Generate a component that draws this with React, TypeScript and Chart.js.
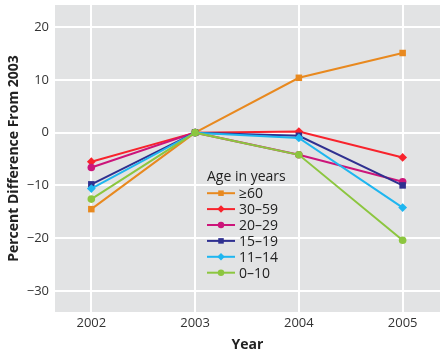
import React, { useEffect, useRef } from "react";
import { Chart, registerables } from "chart.js";
Chart.register(...registerables);

const years = [2002, 2003, 2004, 2005];
const seriesLabels = ["≥60", "30–59", "20–29", "15–19", "11–14", "0–10"];
const s60 = [-14.5, 0, 10.4, 15.1];
const s30 = [-5.5, 0, 0.2, -4.7];
const s20 = [-6.6, 0, -4.2, -9.3];
const s15 = [-9.8, 0, -0.6, -10.0];
const s11 = [-10.6, 0, -1.0, -14.2];
const s0 = [-12.6, 0, -4.2, -20.4];
const yTicks = [-30, -20, -10, 0, 10, 20];
const legendTitle = "Age in years";
const yTitle = "Percent Difference From 2003";
const xTitle = "Year";

const colors = ["#e8891f", "#f8232c", "#cc157a", "#2f3090", "#1eb6f0", "#8cc63f"];
const pointStyles = ["rect", "rectRot", "circle", "rect", "rectRot", "circle"];
const allSeries = [s60, s30, s20, s15, s11, s0];

const FONT = "'Open Sans', 'DejaVu Sans', sans-serif";

function radiusFor(style: string) {
  if (style === "circle") return 3.8;
  if (style === "rectRot") return 4.4;
  return 4.6;
}

function drawMarker(ctx: CanvasRenderingContext2D, style: string, x: number, y: number, r: number) {
  ctx.beginPath();
  if (style === "circle") {
    ctx.arc(x, y, r, 0, Math.PI * 2);
  } else if (style === "rect") {
    const s = r * Math.SQRT1_2;
    ctx.rect(x - s, y - s, s * 2, s * 2);
  } else {
    ctx.moveTo(x, y - r);
    ctx.lineTo(x + r, y);
    ctx.lineTo(x, y + r);
    ctx.lineTo(x - r, y);
    ctx.closePath();
  }
  ctx.fill();
}

const bgPlugin = {
  id: "bgPlugin",
  beforeDraw(chart: any) {
    const { ctx, chartArea } = chart;
    ctx.save();
    ctx.fillStyle = "#e2e3e4";
    ctx.fillRect(chartArea.left, chartArea.top, chartArea.right - chartArea.left, chartArea.bottom - chartArea.top);
    ctx.restore();
  },
};

const legendPlugin = {
  id: "customLegend",
  afterDraw(chart: any) {
    const { ctx, chartArea } = chart;
    const x0 = chartArea.left + 152;
    const y0 = chartArea.top + 172;
    ctx.save();
    ctx.fillStyle = "#222";
    ctx.font = `14px ${FONT}`;
    ctx.textBaseline = "middle";
    ctx.textAlign = "left";
    ctx.fillText(legendTitle, x0, y0);
    seriesLabels.forEach((label, i) => {
      const y = y0 + 16.2 + i * 15.9;
      ctx.strokeStyle = colors[i];
      ctx.fillStyle = colors[i];
      ctx.lineWidth = 2;
      ctx.beginPath();
      ctx.moveTo(x0, y);
      ctx.lineTo(x0 + 28, y);
      ctx.stroke();
      drawMarker(ctx, pointStyles[i], x0 + 14, y, radiusFor(pointStyles[i]) * 0.85);
      ctx.fillStyle = "#222";
      ctx.fillText(label, x0 + 32, y + 1);
    });
    ctx.restore();
  },
};

export default function App() {
  const ref = useRef<HTMLCanvasElement | null>(null);
  useEffect(() => {
    document.body.style.margin = "0";
    const canvas = ref.current!;
    const datasets = allSeries.map((s, i) => ({
      label: seriesLabels[i],
      data: s.map((v, j) => ({ x: years[j], y: v })),
      borderColor: colors[i],
      backgroundColor: colors[i],
      borderWidth: 2,
      pointStyle: pointStyles[i],
      pointRadius: radiusFor(pointStyles[i]),
      pointBorderWidth: 0,
      tension: 0,
    }));
    const chart = new Chart(canvas, {
      type: "line",
      data: { datasets: datasets.slice().reverse() as any },
      options: {
        animation: false,
        responsive: false,
        maintainAspectRatio: false,
        layout: { autoPadding: false, padding: { top: 5, right: 0, left: 0, bottom: 0 } },
        plugins: { legend: { display: false }, tooltip: { enabled: false } },
        scales: {
          x: {
            type: "linear",
            min: 2001.65,
            max: 2005.36,
            afterBuildTicks: (scale: any) => {
              scale.ticks = years.map((v) => ({ value: v }));
            },
            afterFit: (scale: any) => {
              scale.height = 41;
              scale.paddingLeft = 0;
              scale.paddingRight = 0;
            },
            ticks: {
              font: { family: FONT, size: 13 },
              color: "#333",
              padding: 3,
              callback: (v: any) => String(v),
            },
            grid: { color: "#ffffff", lineWidth: 2, drawTicks: false },
            border: { display: false },
            title: {
              display: true,
              text: xTitle,
              font: { family: FONT, size: 14, weight: "bold" },
              color: "#222",
              padding: { top: 1, bottom: 0 },
            },
          },
          y: {
            type: "linear",
            min: -34,
            max: 24.2,
            afterBuildTicks: (scale: any) => {
              scale.ticks = yTicks.map((v) => ({ value: v }));
            },
            afterFit: (scale: any) => {
              scale.width = 55;
              scale.paddingTop = 0;
              scale.paddingBottom = 0;
            },
            ticks: {
              font: { family: FONT, size: 13 },
              color: "#333",
              padding: 6,
              callback: (v: any) => String(v).replace("-", "−"),
            },
            grid: { color: "#ffffff", lineWidth: 2, drawTicks: false },
            border: { display: false },
            title: {
              display: true,
              text: yTitle,
              font: { family: FONT, size: 14, weight: "bold" },
              color: "#222",
              padding: { top: 6, bottom: 0 },
            },
          },
        },
      },
      plugins: [bgPlugin, legendPlugin],
    });
    return () => chart.destroy();
  }, []);
  return (
    <div style={{ width: 440, height: 353 }}>
      <canvas ref={ref} width={440} height={353} style={{ display: "block" }} />
    </div>
  );
}
